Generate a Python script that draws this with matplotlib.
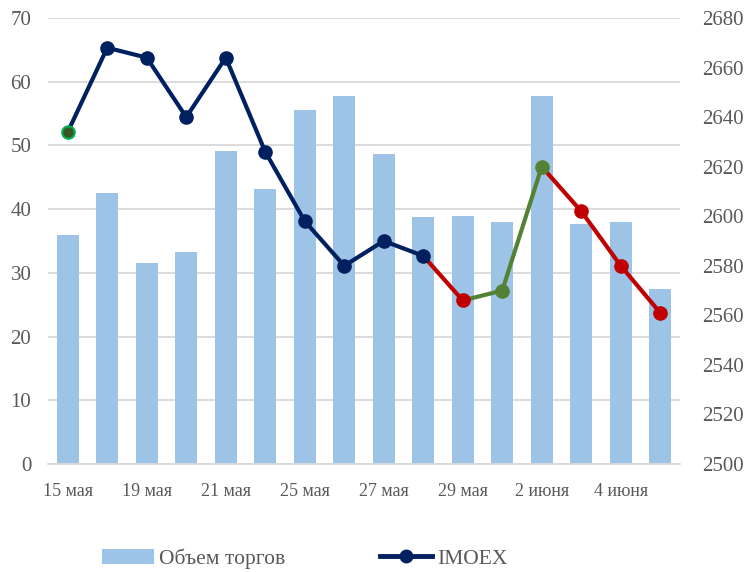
import numpy as np
import matplotlib.pyplot as plt
from matplotlib.lines import Line2D
from matplotlib.patches import Patch

plt.rcParams["font.family"] = ["Liberation Serif", "DejaVu Serif"]

# --- Data ---
dates = ["15 мая", "18 мая", "19 мая", "20 мая", "21 мая", "22 мая", "25 мая", "26 мая",
         "27 мая", "28 мая", "29 мая", "1 июня", "2 июня", "3 июня", "4 июня", "5 июня"]
volume = [36.0, 42.5, 31.6, 33.3, 49.2, 43.1, 55.5, 57.7,
          48.6, 38.7, 38.9, 38.0, 57.7, 37.6, 38.0, 27.5]
imoex = [2634, 2668, 2664, 2640, 2664, 2626, 2598, 2580,
         2590, 2584, 2566, 2570, 2620, 2602, 2580, 2561]
# point colour: n = navy, r = red (fall), g = green (rise)
point_kind = ["start", "n", "n", "n", "n", "n", "n", "n",
              "n", "n", "r", "g", "g", "r", "r", "r"]

navy = "#002060"
colors = {"n": navy, "r": "#C00000", "g": "#548235"}
bar_color = "#9DC3E6"
grid_color = "#D9D9D9"
text_color = "#595959"

x = np.arange(len(dates))

fig = plt.figure(figsize=(7.51, 5.72), dpi=100)
ax = fig.add_axes([48 / 751, 1 - 464 / 572, (680 - 48) / 751, (464 - 18) / 572])
ax2 = ax.twinx()

# --- Bars ---
ax.bar(x, volume, width=0.56, color=bar_color, zorder=2)
ax.set_ylim(0, 70)
ax.set_yticks(range(0, 71, 10))
ax.set_xlim(-0.5, len(dates) - 0.5)
ax.grid(axis="y", color=grid_color, linewidth=1.3, zorder=0)
ax.set_axisbelow(True)
ax.set_xticks(x[::2])
ax.set_xticklabels(dates[::2])
ax.tick_params(axis="x", length=0, pad=14, labelsize=13, labelcolor=text_color)
ax.tick_params(axis="y", length=0, pad=12, labelsize=15, labelcolor=text_color)
for s in ["top", "left", "right"]:
    ax.spines[s].set_visible(False)
ax.spines["bottom"].set_color(grid_color)
ax.spines["bottom"].set_linewidth(1.3)

# --- IMOEX line ---
for i in range(1, len(imoex)):
    ax2.plot(x[i - 1:i + 1], imoex[i - 1:i + 1], color=colors[point_kind[i]],
             linewidth=3, solid_capstyle="round", zorder=3)
for i in range(len(imoex)):
    if point_kind[i] == "start":
        ax2.plot(x[i], imoex[i], "o", markersize=9, markerfacecolor="#385723",
                 markeredgecolor="#00B050", markeredgewidth=1.5, zorder=4)
    else:
        c = colors[point_kind[i]]
        ax2.plot(x[i], imoex[i], "o", markersize=9.5, color=c, zorder=4)

ax2.set_ylim(2500, 2680)
ax2.set_yticks(range(2500, 2681, 20))
ax2.tick_params(axis="y", length=0, pad=16, labelsize=15, labelcolor=text_color)
for s in ax2.spines.values():
    s.set_visible(False)

# --- Legend ---
handles = [
    Patch(facecolor=bar_color, label="Объем торгов"),
    Line2D([0], [0], color=navy, linewidth=3.5, marker="o", markersize=9, label="IMOEX"),
]
fig.legend(handles=handles, loc="lower center", bbox_to_anchor=(0.406, -0.028), ncol=2,
           frameon=False, fontsize=15.5, handlelength=2.4, handletextpad=0.25,
           columnspacing=4.4, labelcolor=text_color)

fig.savefig("out.png", dpi=100)
